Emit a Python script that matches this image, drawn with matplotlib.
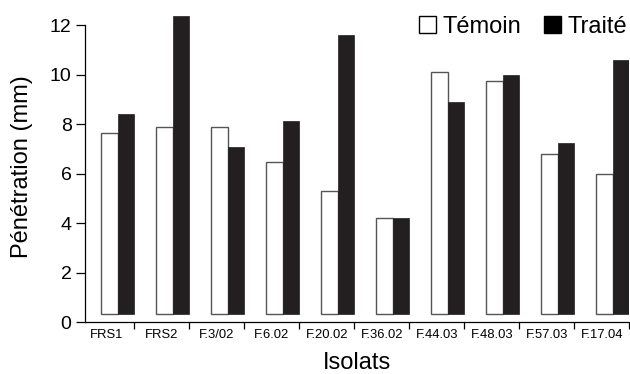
import numpy as np
import matplotlib.pyplot as plt
from matplotlib.patches import Patch

plt.rcParams['font.family'] = ['Liberation Sans', 'DejaVu Sans']

isolats = ['FRS1', 'FRS2', 'F.3/02', 'F.6.02', 'F.20.02', 'F.36.02',
           'F.44.03', 'F.48.03', 'F.57.03', 'F.17.04']
temoin = [7.63, 7.90, 7.90, 6.46, 5.30, 4.20, 10.10, 9.75, 6.80, 5.98]
traite = [8.41, 12.37, 7.07, 8.14, 11.60, 4.20, 8.91, 9.99, 7.23, 10.59]
base = 0.32  # bars start slightly above zero in the original

fig = plt.figure(figsize=(6.3, 3.74), dpi=100)
ax = fig.add_axes([85 / 630, 51.7 / 374, 544.3 / 630, 312.3 / 374])

x = np.arange(len(isolats))
w = 0.3
h_t = np.array(temoin) - base
h_r = np.array(traite) - base
ax.bar(x + 0.4, h_t, w, bottom=base, align='edge', color='white',
       edgecolor='#555555', linewidth=1.0)
ax.bar(x + 0.7, h_r, w, bottom=base, align='edge', color='#231f20',
       edgecolor='#231f20', linewidth=0.5)

ax.set_xlim(0.104, 10.0)
ax.set_ylim(0, 12.61)
ax.spines['top'].set_visible(False)
ax.spines['right'].set_visible(False)
ax.spines['left'].set_bounds(0, 12)
for s in ['left', 'bottom']:
    ax.spines[s].set_linewidth(0.9)

ax.set_yticks(np.arange(0, 13, 2))
ax.tick_params(axis='y', length=6.7, width=0.9, pad=3, labelsize=14)

ax.set_xticks(np.arange(1, 11))
ax.set_xticklabels([])
ax.set_xticks(x + 0.5, minor=True)
ax.set_xticklabels(isolats, minor=True)
ax.tick_params(axis='x', which='major', length=5.0, width=0.9)
ax.tick_params(axis='x', which='minor', length=0, pad=4.5, labelsize=9.4)

ax.set_xlabel('Isolats', fontsize=17, labelpad=8.5)
ax.set_ylabel('Pénétration (mm)', fontsize=17, labelpad=12)

handles = [Patch(facecolor='white', edgecolor='black', linewidth=1, label='Témoin'),
           Patch(facecolor='black', edgecolor='black', linewidth=1, label='Traité')]
fig.legend(handles=handles, loc='upper right', bbox_to_anchor=(627 / 630, 358 / 374),
           ncol=2, frameon=False, fontsize=17, handlelength=0.72, handleheight=0.72,
           handletextpad=0.27, columnspacing=0.95, borderpad=0, borderaxespad=0)

fig.savefig('out.png', dpi=100)
